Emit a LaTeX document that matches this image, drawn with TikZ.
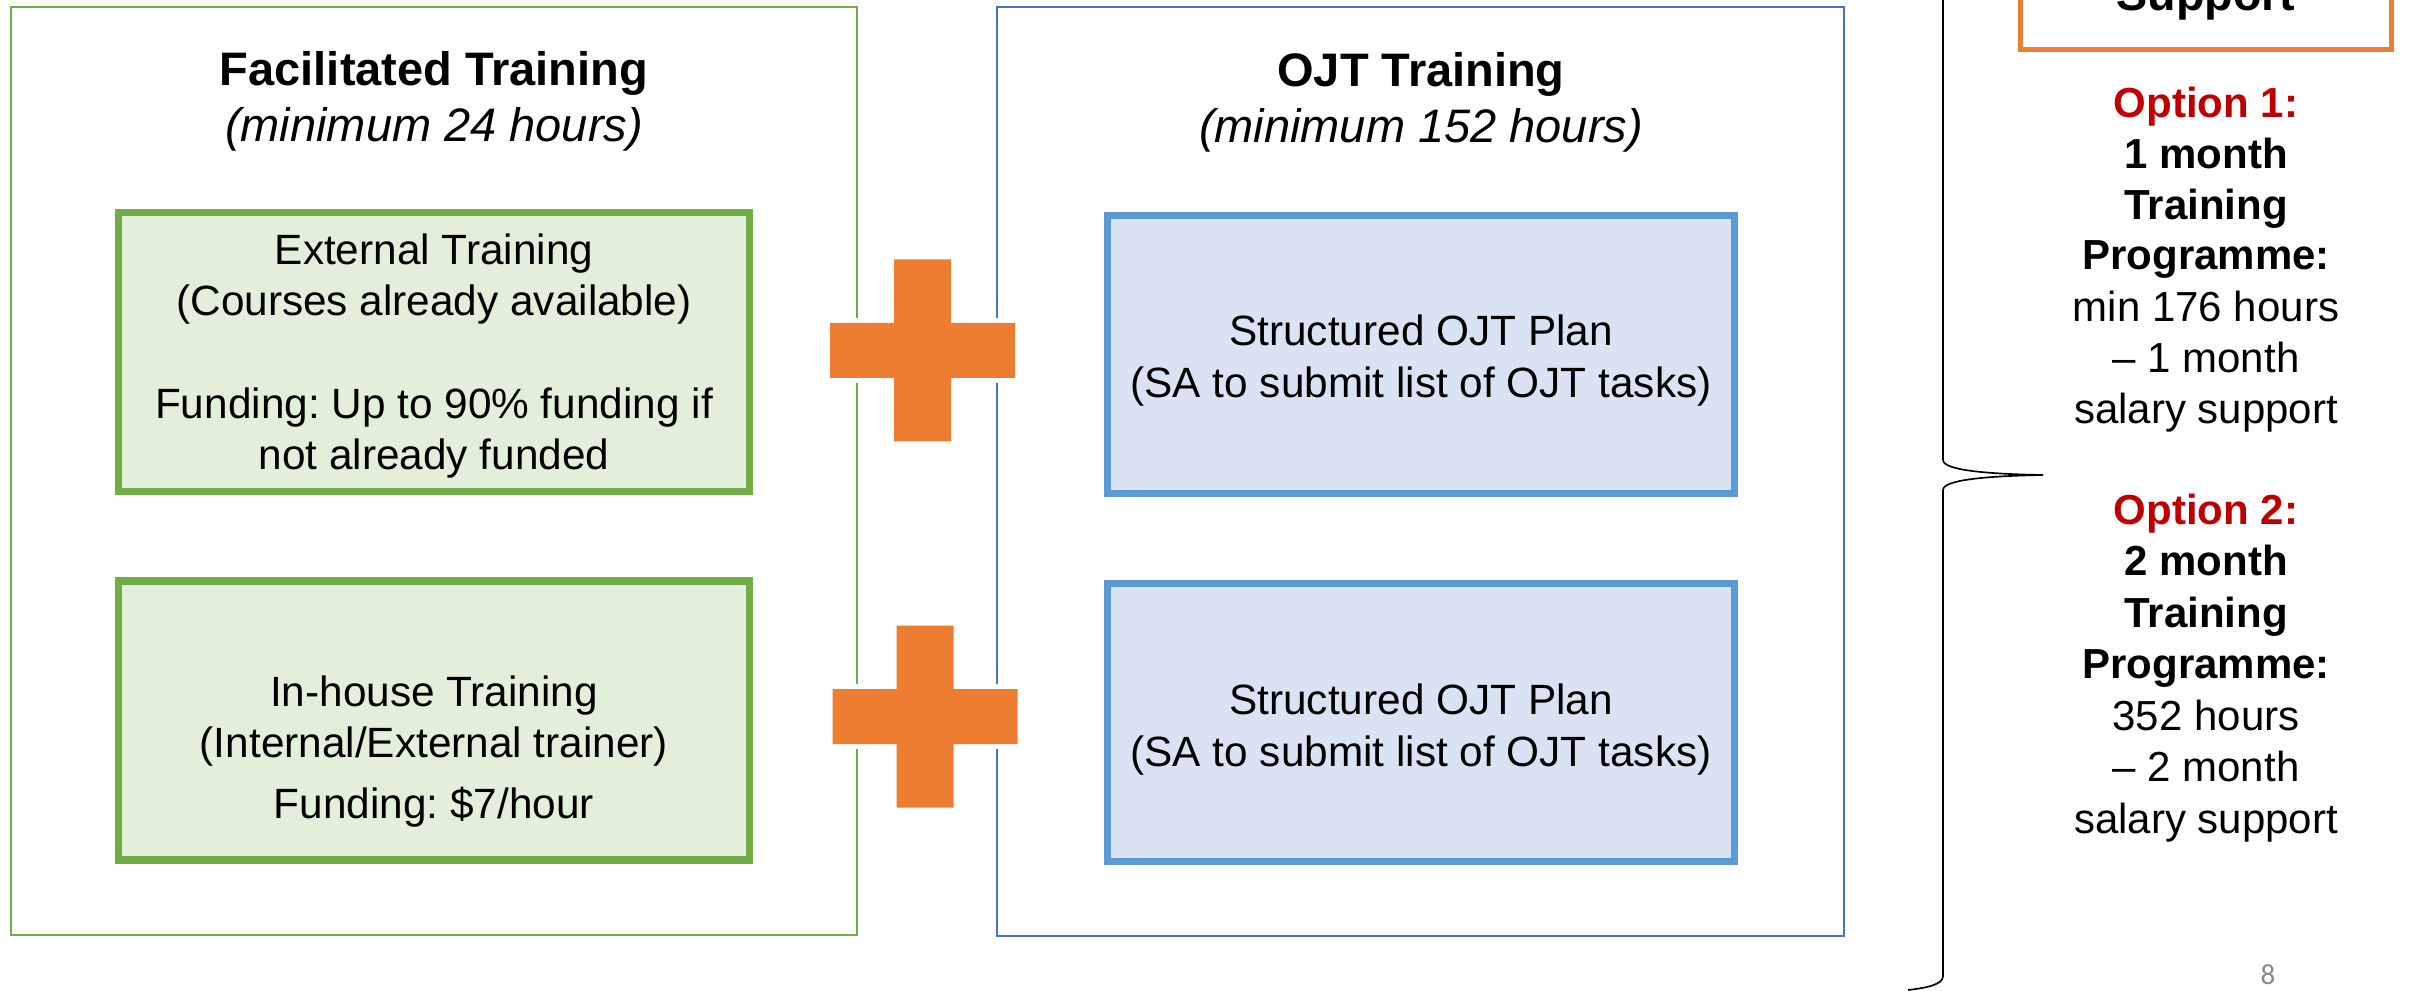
\documentclass[tikz,border=0pt]{standalone}
\usepackage{fontspec}
\setmainfont{Liberation Sans}
\newfontfamily\pagefont{Carlito}
\frenchspacing
\definecolor{frgreen}{HTML}{70AD47}
\definecolor{boxgreen}{HTML}{E2EFDA}
\definecolor{frblue}{HTML}{4472C4}
\definecolor{edgeblue}{HTML}{5B9BD5}
\definecolor{boxblue}{HTML}{DAE3F3}
\definecolor{plusorange}{HTML}{ED7D31}
\definecolor{optred}{HTML}{C00000}
\definecolor{pagegray}{HTML}{898989}
\tikzset{
  outerframe/.style={line width=0.75pt},
  trainbox/.style={line width=2.25pt},
  titletext/.style={align=center, anchor=base, inner sep=0pt, font=\fontsize{14.1}{16.8}\selectfont},
  boxtext/.style={align=center, anchor=base, inner sep=0pt, font=\fontsize{12.7}{15.4}\selectfont},
  optiontext/.style={align=center, anchor=base, inner sep=0pt, font=\fontsize{12.6}{15.3}\selectfont},
  plusmark/.style={fill=plusorange, preaction={draw=white, line width=3pt}},
}
\begin{document}
\begin{tikzpicture}[x=0.3pt, y=-0.3pt]
				\useasboundingbox (0,0) rectangle (2414,991);
				\clip (0,0) rectangle (2414,991);
				%\fill[white] (0,0) rectangle (2414,991);
				\draw[outerframe, frgreen] (11,7) rectangle (857,935);
				\draw[outerframe, frblue] (997,7) rectangle (1844,936);
				
				\draw[trainbox, draw=frgreen, fill=boxgreen] (118.5,212.5) rectangle (749.5,491.5);
				\draw[trainbox, draw=frgreen, fill=boxgreen] (118.5,581) rectangle (749.5,860);
				\draw[trainbox, draw=edgeblue, fill=boxblue] (1107.5,215.5) rectangle (1734.5,493.5);
				\draw[trainbox, draw=edgeblue, fill=boxblue] (1107.5,583.5) rectangle (1734.5,861.5);
				
				% base = last line
				\node[titletext] (factitle) at (434,142) {\textbf{Facilitated Training}\\\textit{(minimum 24 hours)}};
				\node[titletext] (ojttitle) at (1421,143) {\textbf{OJT Training}\\\textit{(minimum 152 hours)}};
				
				\node[boxtext] (exttext) at (434,470) {External Training\\(Courses already available)\\[15.6pt]Funding: Up to 90\% funding if\\not already funded};
				\node[boxtext] (inhousetext) at (434,818) {In-house Training\\(Internal/External trainer)\\[2.7pt]Funding: \$7/hour};
				\node[boxtext] (ojtplanA) at (1421,397) {Structured OJT Plan\\(SA to submit list of OJT tasks)};
				\node[boxtext] (ojtplanB) at (1421,766) {Structured OJT Plan\\(SA to submit list of OJT tasks)};
				
				\foreach \cx/\cy in {922.5/350.5, 925/716.5}
				\fill[plusmark] (\cx-28.5,\cy-91) -- (\cx+28.5,\cy-91) -- (\cx+28.5,\cy-27.5) -- (\cx+92.5,\cy-27.5) -- (\cx+92.5,\cy+27.5) -- (\cx+28.5,\cy+27.5) -- (\cx+28.5,\cy+91) -- (\cx-28.5,\cy+91) -- (\cx-28.5,\cy+27.5) -- (\cx-92.5,\cy+27.5) -- (\cx-92.5,\cy-27.5) -- (\cx-28.5,\cy-27.5) -- cycle;
				
				% brace
				\draw[line width=0.5pt] (1908,990) .. controls (1925,988) and (1943,985) .. (1943,976) -- (1943,490) .. controls (1943,480) and (1985,476) .. (2043,475) .. controls (1985,474) and (1943,470) .. (1943,460) -- (1943,-30) .. controls (1943,-39) and (1925,-42) .. (1908,-44);
				
				\draw[line width=1.5pt, plusorange] (2020.5,-150) rectangle (2391.5,49.5);
				\node[font=\fontsize{14}{17}\selectfont\bfseries, anchor=base, inner sep=0pt] (supporttext) at (2206,11) {Support};
				
				\node[optiontext] (optionA) at (2206,423) {\textcolor{optred}{\textbf{Option 1:}}\\\textbf{1 month}\\\textbf{Training}\\\textbf{Programme:}\\min 176 hours\\-- 1 month\\salary support};
				\node[optiontext, font=\fontsize{12.6}{15.45}\selectfont] (optionB) at (2206,833) {\textcolor{optred}{\textbf{Option 2:}}\\\textbf{2 month}\\\textbf{Training}\\\textbf{Programme:}\\352 hours\\-- 2 month\\salary support};
				
				\node[font=\pagefont\fontsize{8.7}{10}\selectfont, text=pagegray, anchor=base, inner sep=0pt] (pagenum) at (2268,984) {8};
			\end{tikzpicture}
\end{document}
